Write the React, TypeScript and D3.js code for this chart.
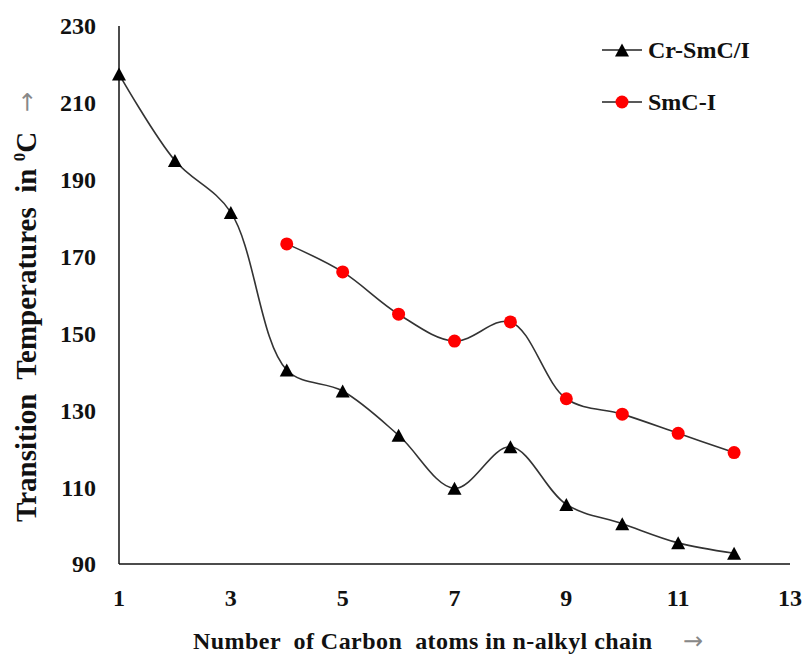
import React from "react";
import * as d3 from "d3";

const xTicks = [1, 3, 5, 7, 9, 11, 13];
const yTicks = [90, 110, 130, 150, 170, 190, 210, 230];

const crCarbons = [1, 2, 3, 4, 5, 6, 7, 8, 9, 10, 11, 12];
const crTemps = [217.5, 195, 181.5, 140.5, 135, 123.5, 109.7, 120.5, 105.5, 100.5, 95.5, 92.8];

const smCarbons = [4, 5, 6, 7, 8, 9, 10, 11, 12];
const smTemps = [173.3, 166, 155, 148, 153, 133, 129, 124, 119];

const seriesNames = ["Cr-SmC/I", "SmC-I"];

const FONT = "'Liberation Serif', 'Times New Roman', serif";
const ARROW_FONT = "'DejaVu Sans', sans-serif";

const W = 806;
const H = 654;
const left = 119;
const right = 790;
const top = 26;
const bottom = 564;

export default function App() {
  const x = d3.scaleLinear().domain([1, 13]).range([left, right]);
  const y = d3.scaleLinear().domain([90, 230]).range([bottom, top]);

  const line = d3
    .line<[number, number]>()
    .x((d) => x(d[0]))
    .y((d) => y(d[1]))
    .curve(d3.curveCatmullRom.alpha(0.5));

  const crData: [number, number][] = crCarbons.map((c, i) => [c, crTemps[i]]);
  const smData: [number, number][] = smCarbons.map((c, i) => [c, smTemps[i]]);

  const tri = (cx: number, cy: number, w = 14, h = 13) =>
    `M${cx},${cy - h / 2}L${cx + w / 2},${cy + h / 2}L${cx - w / 2},${cy + h / 2}Z`;

  return (
    <svg
      width={W}
      height={H}
      style={{ position: "absolute", left: 0, top: 0, background: "#fff" }}
      fontFamily={FONT}
    >
      <rect x={0} y={0} width={W} height={H} fill="#fff" />
      {/* axes */}
      <line x1={left} y1={top} x2={left} y2={bottom} stroke="#111" strokeWidth={1.5} />
      <line x1={left} y1={bottom} x2={right} y2={bottom} stroke="#111" strokeWidth={1.5} />

      {/* y tick labels */}
      {yTicks.map((t) => (
        <text
          key={"y" + t}
          x={96}
          y={y(t)}
          dy="0.35em"
          textAnchor="end"
          fontFamily={FONT}
          fontSize={24}
          fontWeight="bold"
          fill="#111"
        >
          {t}
        </text>
      ))}
      {/* x tick labels */}
      {xTicks.map((t) => (
        <text
          key={"x" + t}
          x={x(t)}
          y={606}
          textAnchor="middle"
          fontFamily={FONT}
          fontSize={24}
          fontWeight="bold"
          fill="#111"
        >
          {t}
        </text>
      ))}

      {/* x title */}
      <text
        x={193}
        y={649}
        fontFamily={FONT}
        fontSize={24}
        fontWeight="bold"
        fill="#111"
        textLength={459}
        lengthAdjust="spacing"
        style={{ whiteSpace: "pre" }}
      >
        {"Number  of Carbon  atoms in n-alkyl chain"}
      </text>
      <text x={683} y={649} fontFamily={ARROW_FONT} fontSize={24} fill="#888">
        {"→"}
      </text>

      {/* y title */}
      <text
        transform="translate(36,522) rotate(-90)"
        fontFamily={FONT}
        fontSize={29}
        fontWeight="bold"
        fill="#111"
        style={{ whiteSpace: "pre" }}
      >
        {"Transition  Temperatures  in "}
        <tspan fontSize={17} dy={-11}>
          0
        </tspan>
        <tspan dy={11}>C</tspan>
      </text>
      <text transform="translate(35,112) rotate(-90)" fontFamily={ARROW_FONT} fontSize={24} fill="#888">
        {"→"}
      </text>

      {/* series lines */}
      <path d={line(crData) || ""} fill="none" stroke="#333" strokeWidth={1.6} />
      <path d={line(smData) || ""} fill="none" stroke="#333" strokeWidth={1.6} />

      {/* markers */}
      {crData.map((d, i) => (
        <path key={"t" + i} d={tri(x(d[0]), y(d[1]))} fill="#000" />
      ))}
      {smData.map((d, i) => (
        <circle key={"c" + i} cx={x(d[0])} cy={y(d[1])} r={6.5} fill="#f00" />
      ))}

      {/* legend */}
      <line x1={602} y1={50} x2={642} y2={50} stroke="#222" strokeWidth={1.6} />
      <path d={tri(622, 50)} fill="#000" />
      <text x={648} y={58} fontFamily={FONT} fontSize={24} fontWeight="bold" fill="#111">
        {seriesNames[0]}
      </text>
      <line x1={602} y1={102} x2={642} y2={102} stroke="#222" strokeWidth={1.6} />
      <circle cx={622} cy={102} r={6.5} fill="#f00" />
      <text x={648} y={110} fontFamily={FONT} fontSize={24} fontWeight="bold" fill="#111">
        {seriesNames[1]}
      </text>
    </svg>
  );
}
